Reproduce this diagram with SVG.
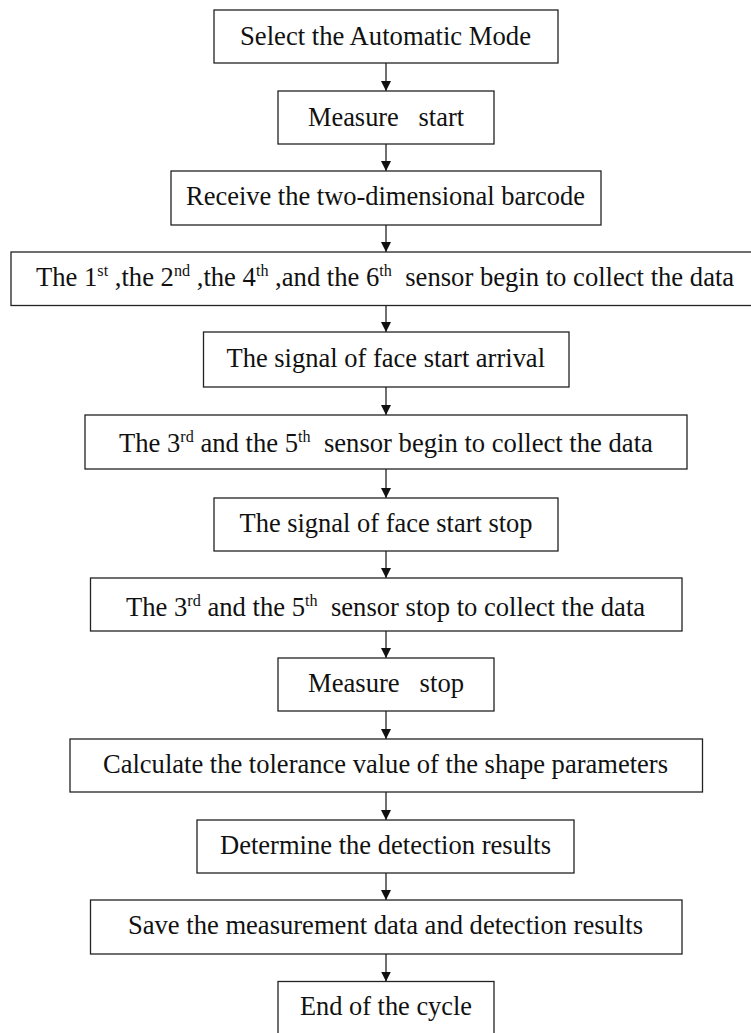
<svg xmlns="http://www.w3.org/2000/svg" width="751" height="1033" viewBox="0 0 751 1033">
<style>
.box{fill:#fff;stroke:#222;stroke-width:1.3}
.lbl{font-family:"Liberation Serif","Times New Roman",serif;font-size:28px;fill:#111;white-space:pre}
.sup{font-size:17px}
.conn{stroke:#222;stroke-width:1.3;fill:none}
</style>
<defs>
<marker id="arr" markerUnits="userSpaceOnUse" markerWidth="10" markerHeight="10" refX="10" refY="5" orient="auto">
<path d="M0,0 L10,5 L0,10 z" fill="#111"/>
</marker>
</defs>
<rect width="751" height="1033" fill="#fff"/>
<g id="connectors">
<line class="conn" x1="386" y1="63" x2="386" y2="91" marker-end="url(#arr)"/>
<line class="conn" x1="386" y1="144" x2="386" y2="171" marker-end="url(#arr)"/>
<line class="conn" x1="386" y1="225" x2="386" y2="252" marker-end="url(#arr)"/>
<line class="conn" x1="386" y1="305.5" x2="386" y2="332" marker-end="url(#arr)"/>
<line class="conn" x1="386" y1="387" x2="386" y2="415" marker-end="url(#arr)"/>
<line class="conn" x1="386" y1="469" x2="386" y2="498" marker-end="url(#arr)"/>
<line class="conn" x1="386" y1="551" x2="386" y2="578" marker-end="url(#arr)"/>
<line class="conn" x1="386" y1="631" x2="386" y2="658" marker-end="url(#arr)"/>
<line class="conn" x1="386" y1="711" x2="386" y2="739" marker-end="url(#arr)"/>
<line class="conn" x1="386" y1="792" x2="386" y2="820" marker-end="url(#arr)"/>
<line class="conn" x1="386" y1="873" x2="386" y2="900" marker-end="url(#arr)"/>
<line class="conn" x1="386" y1="954" x2="386" y2="981.5" marker-end="url(#arr)"/>
</g>
<g id="n1"><rect class="box" x="214" y="10" width="344" height="53"/><text class="lbl" x="240" y="45" textLength="291" lengthAdjust="spacingAndGlyphs">Select the Automatic Mode</text></g>
<g id="n2"><rect class="box" x="278" y="91" width="216" height="53"/><text class="lbl" x="308" y="125.5" textLength="156" lengthAdjust="spacingAndGlyphs" xml:space="preserve">Measure   start</text></g>
<g id="n3"><rect class="box" x="171" y="171" width="430" height="54"/><text class="lbl" x="186" y="205" textLength="399" lengthAdjust="spacingAndGlyphs">Receive the two-dimensional barcode</text></g>
<g id="n4"><rect class="box" x="11" y="252" width="750" height="53.5"/><text class="lbl" transform="translate(36,286) scale(0.951,1)" x="0" y="0" xml:space="preserve">The 1<tspan class="sup" dy="-10">st</tspan><tspan dy="10"> ,the 2</tspan><tspan class="sup" dy="-10">nd</tspan><tspan dy="10"> ,the 4</tspan><tspan class="sup" dy="-10">th</tspan><tspan dy="10"> ,and the 6</tspan><tspan class="sup" dy="-10">th</tspan><tspan dy="10">  sensor begin to collect the data</tspan></text></g>
<g id="n5"><rect class="box" x="203.5" y="332" width="365.5" height="55"/><text class="lbl" x="226.5" y="366.5" textLength="318.5" lengthAdjust="spacingAndGlyphs">The signal of face start arrival</text></g>
<g id="n6"><rect class="box" x="85" y="415" width="602" height="54"/><text class="lbl" transform="translate(119,451.5) scale(0.951,1)" x="0" y="0" xml:space="preserve">The 3<tspan class="sup" dy="-10">rd</tspan><tspan dy="10"> and the 5</tspan><tspan class="sup" dy="-10">th</tspan><tspan dy="10">  sensor begin to collect the data</tspan></text></g>
<g id="n7"><rect class="box" x="214" y="498" width="344" height="53"/><text class="lbl" x="239.5" y="531.5" textLength="293" lengthAdjust="spacingAndGlyphs">The signal of face start stop</text></g>
<g id="n8"><rect class="box" x="90.5" y="578" width="591.5" height="53"/><text class="lbl" transform="translate(126,616) scale(0.951,1)" x="0" y="0" xml:space="preserve">The 3<tspan class="sup" dy="-10">rd</tspan><tspan dy="10"> and the 5</tspan><tspan class="sup" dy="-10">th</tspan><tspan dy="10">  sensor stop to collect the data</tspan></text></g>
<g id="n9"><rect class="box" x="278" y="658" width="216" height="53"/><text class="lbl" x="308" y="692" textLength="156" lengthAdjust="spacingAndGlyphs" xml:space="preserve">Measure   stop</text></g>
<g id="n10"><rect class="box" x="70" y="739" width="632.5" height="53"/><text class="lbl" x="103" y="773" textLength="565" lengthAdjust="spacingAndGlyphs">Calculate the tolerance value of the shape parameters</text></g>
<g id="n11"><rect class="box" x="197" y="820" width="377" height="53"/><text class="lbl" x="220" y="854" textLength="331" lengthAdjust="spacingAndGlyphs">Determine the detection results</text></g>
<g id="n12"><rect class="box" x="90.5" y="900" width="591.5" height="54"/><text class="lbl" x="128" y="934" textLength="515" lengthAdjust="spacingAndGlyphs">Save the measurement data and detection results</text></g>
<g id="n13"><rect class="box" x="278" y="981.5" width="216" height="60"/><text class="lbl" x="300" y="1015" textLength="172" lengthAdjust="spacingAndGlyphs">End of the cycle</text></g>
</svg>
